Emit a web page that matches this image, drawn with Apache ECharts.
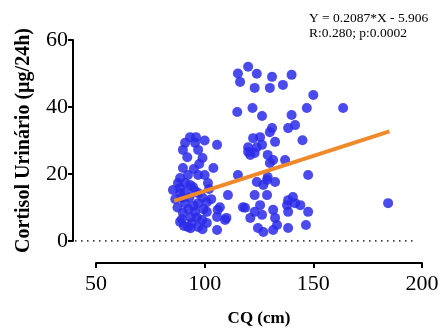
<!DOCTYPE html>
<html>
<head>
<meta charset="utf-8">
<script src="https://cdn.jsdelivr.net/npm/echarts@6/dist/echarts.min.js"></script>
<style>
  html, body { margin: 0; padding: 0; background: #fff; }
  #chart { width: 448px; height: 333px; }
</style>
</head>
<body>
<div id="chart"></div>
<script>
// CQ (cm) vs Cortisol urinario
let points = [
    [93.3,31.0],[91,29.3],[95.6,29.3],[105.7,28.7],[90,27.2],[97,27.2],[92,25.0],[99,24.8],
    [90,21.8],[104,21.8],[92.3,19.7],[97,19.7],[100,19.7],[88.7,18.8],[91,17.3],[85.4,15.2],
    [88.7,15.8],[94.6,16.1],[87.7,17.3],[93.3,16.7],[101.5,17.3],[88.7,14.3],[97,14.3],[110.7,13.7],
    [91,11.3],[97,11.3],[101,11.6],[90,8.4],[95.6,8.7],[101,8.7],[106,9.3],[88.7,5.7],
    [94.2,5.4],[98.8,6.3],[105.7,7.2],[110,6.9],[92.3,4.2],[97,4.2],[101,5.4],[105.7,3.3],
    [107,10.1],[109.4,6.3],[86.5,12.5],[89.5,12.8],[93,13.0],[95,10.5],[99,13.0],[92.5,9.5],
    [96.5,7.0],[89.5,6.5],[103,12.5],[95.5,15.0],[91,14.5],[99.5,9.5],[93.5,7.0],[87.5,10.0],
    [102,15.5],[95,21.5],[97.5,23],[93.5,3.8],[99,3.5],[90.5,4.5],[100,30],[96,31.0],
    [120,52],[115.3,50],[116.3,47.5],[124,49.9],[131,49],[140,49.6],[123,45.7],[130,45.7],
    [136,46.6],[115,38.5],[122,39.7],[126.4,37.3],[140,37.6],[141.6,34.6],[138.4,33.7],[131,33.7],
    [130,32.5],[125.5,31],[122.3,30.7],[132.4,29.6],[145,30.1],[120,28],[124,28],[126.4,28.7],
    [150,43.6],[147,39.7],[163.7,39.7],[120,26.6],[123,26.3],[129,25.7],[130,23.3],[121,25.7],
    [131.5,24.2],[137,24.2],[115.3,19.7],[124,17.6],[128.7,18.2],[132.4,17.6],[127,16.7],[129,19.1],
    [147.6,19.7],[123,13.7],[128.7,13.7],[117.6,10.1],[138.4,12.2],[141.6,11.3],[137.9,10.7],[118.6,9.9],
    [125.5,10.7],[123,8.7],[126.4,7.8],[121,6.9],[132.4,6.9],[131.5,9.3],[138.4,8.7],[133.3,4.8],
    [124.5,3.9],[127,2.7],[138.4,3.9],[131.5,3.3],[144,10.7],[147.6,8.7],[146.6,4.8],[140.6,13.1],
    [184.4,11.3]
];
// regression line ends (Y = 0.2087*X - 5.906)
let fitLine = [[86, 12.0], [185, 32.7]];
let zeroLine = [[40.34, 0], [197, 0]];
let xTicks = { min: 50, max: 200, interval: 50 };
let yTicks = { min: 0, max: 60, interval: 20 };
let fitText = ['Y = 0.2087*X - 5.906', 'R:0.280; p:0.0002'];

let serif = 'Liberation Serif';
let chart = echarts.init(document.getElementById('chart'));

let option = {
    animation: false,
    title: {
        text: fitText.join('\n'),
        left: 304,
        top: 6,
        textStyle: { fontFamily: serif, fontSize: 13.5, fontWeight: 'normal', color: '#000', lineHeight: 15 }
    },
    grid: [
        { left: 75, right: 26, top: 40, bottom: 92 },
        { left: 96, right: 26, top: 40, bottom: 70 }
    ],
    xAxis: [
        { gridIndex: 0, type: 'value', min: 40.34, max: 200, show: false },
        {
            gridIndex: 1, type: 'value', min: xTicks.min, max: xTicks.max, interval: xTicks.interval,
            axisLine: { lineStyle: { color: '#000', width: 2 } },
            axisTick: { length: 5, lineStyle: { color: '#000', width: 2 } },
            axisLabel: { fontFamily: serif, fontSize: 22, color: '#000', margin: 10 },
            splitLine: { show: false },
            name: 'CQ (cm)',
            nameLocation: 'middle',
            nameGap: 47,
            nameTextStyle: { fontFamily: serif, fontSize: 17, fontWeight: 'bold', color: '#000' }
        }
    ],
    yAxis: [
        {
            gridIndex: 0, type: 'value', min: yTicks.min, max: yTicks.max, interval: yTicks.interval,
            offset: 2,
            axisLine: { show: true, lineStyle: { color: '#000', width: 2 } },
            axisTick: { show: true, length: 5, lineStyle: { color: '#000', width: 2 } },
            axisLabel: { fontFamily: serif, fontSize: 22, color: '#000', margin: 5 },
            splitLine: { show: false },
            name: 'Cortisol Urinário (µg/24h)',
            nameLocation: 'middle',
            nameGap: 39,
            nameTextStyle: { fontFamily: serif, fontSize: 20, fontWeight: 'bold', color: '#000' }
        },
        { gridIndex: 1, type: 'value', show: false }
    ],
    series: [
        {
            type: 'line',
            xAxisIndex: 0, yAxisIndex: 0,
            data: zeroLine,
            showSymbol: false,
            silent: true,
            lineStyle: { color: '#000', width: 1.5, type: [1.5, 4.5] }
        },
        {
            type: 'scatter',
            xAxisIndex: 0, yAxisIndex: 0,
            data: points,
            symbolSize: 10,
            itemStyle: { color: '#2b2bea', opacity: 0.85 }
        },
        {
            type: 'line',
            xAxisIndex: 0, yAxisIndex: 0,
            data: fitLine,
            showSymbol: false,
            lineStyle: { color: '#f0892a', width: 4 }
        }
    ]
};

chart.setOption(option);
</script>
</body>
</html>
